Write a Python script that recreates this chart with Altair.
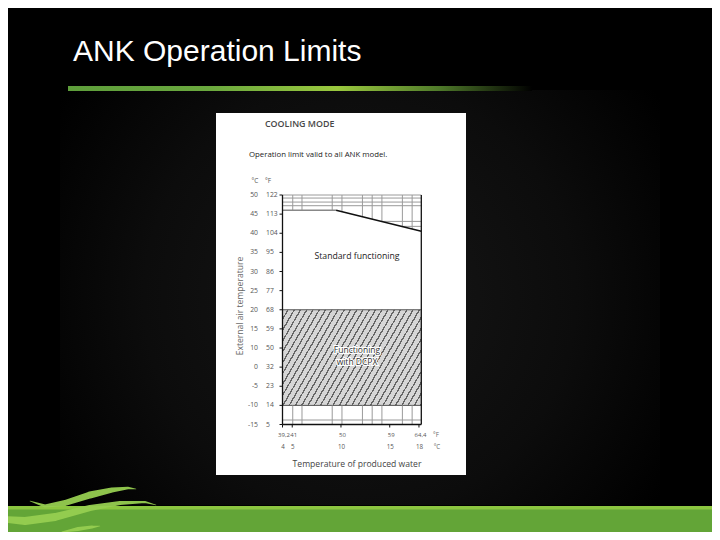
import altair as alt
import pandas as pd
import numpy as np

# ---------------- data ----------------
y_levels = list(range(13))  # label slots, bottom -> top
y_labels_c = ["-15", "-10", "-5", "0", "10", "15", "20", "25", "30", "35", "40", "45", "50"]
y_labels_f = ["5", "14", "23", "32", "50", "59", "68", "77", "86", "95", "104", "113", "122"]

x_ticks_c = [4, 5, 10, 15, 18]
x_labels_c = ["4", "5", "10", "15", "18"]
x_labels_f = ["39,2", "41", "50", "59", "64,4"]

x_min, x_max = 4.0, 18.24
limit_x = [4.0, 9.5, 18.24]      # upper operating limit (water temp, C)
limit_y = [11.2, 11.2, 10.1]     # upper operating limit (label-slot units)
dcpx_y = [1.0, 6.0]              # band "Functioning with DCPX"

grid_v_x = [5.05, 6.0, 9.1, 10.1, 12.2, 13.2, 14.2, 16.3, 17.3]
grid_h_top = [11.84, 11.63, 11.44]
grid_h_slope = [10.62, 10.36]
grid_h_bottom = [0.235]

# ---------------- layout helpers ----------------
OX, OY = 282.5, 195.0      # page position of plot origin
W, H = 138.8, 229.5
CW, CH = 704, 524          # canvas size (fits 720x540 window with 8px margins)

def px(x):
    return x - OX

def py(y):
    return y - OY

one = pd.DataFrame({"k": [0]})

def deco_rect(x1, y1, x2, y2, **kw):
    return alt.Chart(one).mark_rect(**kw).encode(
        x=alt.value(px(x1)), x2=alt.value(px(x2)),
        y=alt.value(py(y1)), y2=alt.value(py(y2)))

def deco_text(text, x, y, **kw):
    return alt.Chart(one).mark_text(text=text, **kw).encode(
        x=alt.value(px(x)), y=alt.value(py(y)))

xs = alt.Scale(domain=[x_min, x_max], nice=False, zero=False)
ys = alt.Scale(domain=[0, 12], nice=False, zero=False)

def X(f):
    return alt.X(f, type="quantitative", scale=xs, axis=None)

def Y(f):
    return alt.Y(f, type="quantitative", scale=ys, axis=None)

FONT = "Open Sans"
layers = []

# ---------------- slide decoration ----------------
vignette = {"gradient": "radial", "x1": 0.5, "y1": 0.5, "r1": 0, "x2": 0.5, "y2": 0.5, "r2": 0.6,
            "stops": [{"offset": 0, "color": "#171717"}, {"offset": 0.6, "color": "#0c0c0c"},
                      {"offset": 1, "color": "#000000"}]}
layers.append(deco_rect(60, 90, 660, 505, fill=vignette))

layers.append(deco_text("ANK Operation Limits", 73, 61, font="Liberation Sans", fontSize=30,
                        color="#ffffff", align="left", baseline="alphabetic"))

green_line = {"gradient": "linear", "x1": 0, "y1": 0, "x2": 1, "y2": 0,
              "stops": [{"offset": 0, "color": "#5e9e3b"}, {"offset": 0.3, "color": "#6aa83e"},
                        {"offset": 0.58, "color": "#9ac83e"}, {"offset": 0.8, "color": "#4f7a2a"},
                        {"offset": 1, "color": "#000000"}]}
layers.append(deco_rect(68, 86, 532, 91, fill=green_line))

# bottom bar
layers.append(deco_rect(0, 506, 720, 540, fill="#63a537"))
layers.append(deco_rect(0, 506, 720, 509.5, fill="#8cc640"))

# swoosh logo
sw = pd.DataFrame({
    "leaf": [1] * 7 + [2] * 7 + [3] * 4,
    "px": [30, 45, 65, 90, 112, 128, 136, 0, 25, 55, 90, 120, 145, 156, 62, 78, 92, 100],
    "py": [501, 506, 503, 495, 490, 488, 489, 519, 521, 517, 508, 503, 502, 505, 532, 529, 527, 526],
    "w": [0.5, 3, 6, 7, 5, 2.5, 0.5, 6, 8, 8, 6, 4, 2, 0.5, 1, 4, 3, 0.5],
})
sw["px"] = sw["px"] - OX
sw["py"] = sw["py"] - OY
layers.append(alt.Chart(sw).mark_trail(color="#96cd50", opacity=0.95).encode(
    x=alt.X("px:Q", scale=None, axis=None), y=alt.Y("py:Q", scale=None, axis=None),
    size=alt.Size("w:Q", scale=None, legend=None), detail="leaf:N", order="px:Q"))

# white panel
layers.append(deco_rect(216, 113, 466, 475, fill="#ffffff"))

layers.append(deco_text("COOLING MODE", 265, 123.5, font=FONT, fontSize=8.9, fontWeight=600,
                        color="#474747", align="left", baseline="middle"))
layers.append(deco_text("Operation limit valid to all ANK model.", 249, 155, font=FONT, fontSize=7.8,
                        color="#222222", align="left", baseline="middle"))
layers.append(deco_text("°C", 255, 181, font=FONT, fontSize=6.5, color="#555", align="center",
                        baseline="middle"))
layers.append(deco_text("°F", 268, 181, font=FONT, fontSize=6.5, color="#555", align="center",
                        baseline="middle"))
layers.append(deco_text("External air temperature", 240, 306, font=FONT, fontSize=8.6, angle=270,
                        color="#666", align="center", baseline="middle"))
layers.append(deco_text("Temperature of produced water", 357, 464, font=FONT, fontSize=8.6,
                        color="#444", align="center", baseline="middle"))
layers.append(deco_text("°F", 436, 435, font=FONT, fontSize=6.2, color="#666", align="center",
                        baseline="middle"))
layers.append(deco_text("°C", 437, 447, font=FONT, fontSize=6.2, color="#666", align="center",
                        baseline="middle"))

# ---------------- chart ----------------
grey = "#9a9a9a"

hatch_n = 31
stops = []
for i in range(hatch_n):
    a, b = i / hatch_n, (i + 0.76) / hatch_n
    stops += [{"offset": a, "color": "#d6d6d6"}, {"offset": b, "color": "#d6d6d6"},
              {"offset": b, "color": "#666666"}, {"offset": (i + 1) / hatch_n, "color": "#666666"}]
hatch = {"gradient": "linear", "x1": 0, "y1": 0, "x2": 1.207, "y2": 0.479, "stops": stops}

band = pd.DataFrame({"x1": [x_min], "x2": [x_max], "y1": [dcpx_y[0]], "y2": [dcpx_y[1]]})
layers.append(alt.Chart(band).mark_rect(fill=hatch).encode(
    x=X("x1"), x2="x2", y=Y("y1"), y2="y2"))
band_edges = pd.DataFrame({"y": dcpx_y, "x1": x_min, "x2": x_max})
layers.append(alt.Chart(band_edges).mark_rule(color="#555", strokeWidth=1).encode(
    x=X("x1"), x2="x2", y=Y("y")))

# upper grid (outside envelope)
vtop = pd.DataFrame({"x": grid_v_x, "y1": np.interp(grid_v_x, limit_x, limit_y), "y2": 12.0})
layers.append(alt.Chart(vtop).mark_rule(color=grey, strokeWidth=1).encode(
    x=X("x"), y=Y("y1"), y2="y2"))
htop = pd.DataFrame({"y": grid_h_top + [12.0], "x1": x_min, "x2": x_max})
layers.append(alt.Chart(htop).mark_rule(color=grey, strokeWidth=1).encode(
    x=X("x1"), x2="x2", y=Y("y")))
hsl = pd.DataFrame({"y": grid_h_slope,
                    "x1": np.interp(grid_h_slope, limit_y[1:][::-1], limit_x[1:][::-1]),
                    "x2": x_max})
layers.append(alt.Chart(hsl).mark_rule(color=grey, strokeWidth=1).encode(
    x=X("x1"), x2="x2", y=Y("y")))
flat = pd.DataFrame({"x1": [limit_x[0]], "x2": [limit_x[1]], "y": [limit_y[0]]})
layers.append(alt.Chart(flat).mark_rule(color="#888", strokeWidth=1.4).encode(
    x=X("x1"), x2="x2", y=Y("y")))
slope = pd.DataFrame({"x": limit_x[1:], "y": limit_y[1:]})
layers.append(alt.Chart(slope).mark_line(color="#111", strokeWidth=1.5).encode(
    x=X("x"), y=Y("y")))

# lower grid
vb = pd.DataFrame({"x": grid_v_x, "y1": 0.0, "y2": dcpx_y[0]})
layers.append(alt.Chart(vb).mark_rule(color=grey, strokeWidth=1).encode(
    x=X("x"), y=Y("y1"), y2="y2"))
hb = pd.DataFrame({"y": grid_h_bottom, "x1": x_min, "x2": x_max})
layers.append(alt.Chart(hb).mark_rule(color=grey, strokeWidth=1).encode(
    x=X("x1"), x2="x2", y=Y("y")))

# frame
frame_v = pd.DataFrame({"x": [x_min, x_max], "y1": 0.0, "y2": 12.0})
layers.append(alt.Chart(frame_v).mark_rule(color="#111", strokeWidth=1.3).encode(
    x=X("x"), y=Y("y1"), y2="y2"))
frame_b = pd.DataFrame({"y": [0.0], "x1": x_min, "x2": x_max})
layers.append(alt.Chart(frame_b).mark_rule(color="#111", strokeWidth=1.3).encode(
    x=X("x1"), x2="x2", y=Y("y")))

# axis ticks and labels
ylab = pd.DataFrame({"lv": y_levels, "c": y_labels_c, "f": y_labels_f})
layers.append(alt.Chart(ylab).mark_rule(color="#111", strokeWidth=1).encode(
    x=alt.value(-3), x2=alt.value(0), y=Y("lv")))
layers.append(alt.Chart(ylab).mark_text(font=FONT, fontSize=6.8, color="#555555", align="right",
                                        baseline="middle").encode(
    x=alt.value(px(258)), y=Y("lv"), text="c:N"))
layers.append(alt.Chart(ylab).mark_text(font=FONT, fontSize=6.8, color="#555555", align="left",
                                        baseline="middle").encode(
    x=alt.value(px(266)), y=Y("lv"), text="f:N"))

xlab = pd.DataFrame({"x": x_ticks_c, "c": x_labels_c, "f": x_labels_f})
layers.append(alt.Chart(xlab).mark_rule(color="#111", strokeWidth=1).encode(
    x=X("x"), y=alt.value(H), y2=alt.value(H + 3)))
layers.append(alt.Chart(xlab).mark_text(font=FONT, fontSize=6.0, color="#555555", align="center",
                                        baseline="middle", dx=1.5).encode(
    x=X("x"), y=alt.value(py(435)), text="f:N"))
layers.append(alt.Chart(xlab).mark_text(font=FONT, fontSize=6.2, color="#555555", align="center",
                                        baseline="middle", dx=0.5).encode(
    x=X("x"), y=alt.value(py(447)), text="c:N"))

# region captions
layers.append(deco_text("Standard functioning", 357, 256, font=FONT, fontSize=8.7, color="#222",
                        align="center", baseline="middle"))
for txt, yy in [("Functioning", 350), ("with DCPX", 362)]:
    layers.append(deco_text(txt, 357, yy, font=FONT, fontSize=8.5, color="#ffffff", stroke="#ffffff",
                            strokeWidth=2.2, align="center", baseline="middle"))
    layers.append(deco_text(txt, 357, yy, font=FONT, fontSize=8.5, color="#333333", align="center",
                            baseline="middle"))

chart = alt.layer(*layers).properties(
    width=W, height=H,
    autosize=alt.AutoSizeParams(type="none"),
    padding={"left": OX - 8, "top": OY - 8, "right": CW - (OX - 8) - W, "bottom": CH - (OY - 8) - H},
).configure(background="#000000").configure_view(stroke=None)

chart.save("out.html", embed_options={"renderer": "svg", "actions": False})
